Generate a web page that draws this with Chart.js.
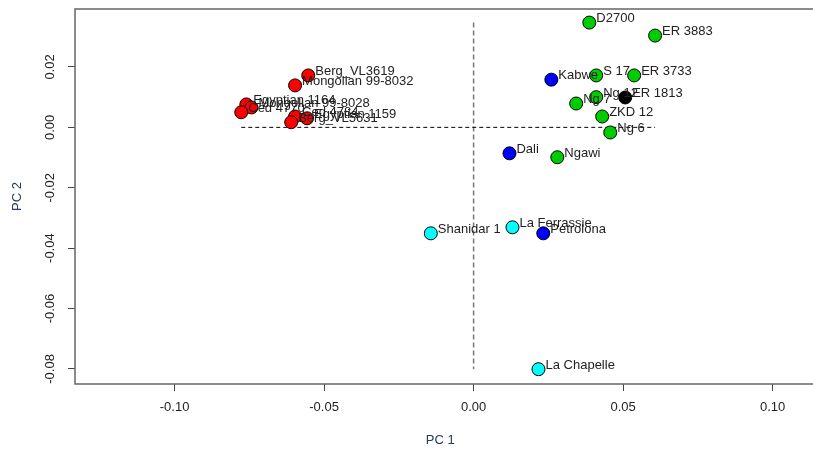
<!DOCTYPE html>
<html>
<head>
<meta charset="utf-8">
<script src="https://cdn.jsdelivr.net/npm/chart.js@4.4.1/dist/chart.umd.min.js"></script>
<style>
  body { margin: 0; background: #fff; overflow: hidden; }
  #wrap { width: 813px; height: 449px; }
</style>
</head>
<body>
<div id="wrap"><canvas id="pca" width="813" height="449"></canvas></div>
<script>
const specimens = [
    'Berg_VL3619', 'Mongolian 99-8032', 'Egyptian 1164', 'Mongolian 99-8028', 'Ced 4770',
    'Ced 4784', 'Egyptian 1159', 'Berg_VL5631',
    'D2700', 'ER 3883', 'S 17', 'ER 3733', 'Ng 12', 'Ng 7', 'ZKD 12', 'Ng 6', 'Ngawi',
    'ER 1813',
    'Kabwe', 'Dali', 'Petrolona',
    'Shanidar 1', 'La Ferrassie', 'La Chapelle'
];
const pc1 = [
    -0.0553, -0.0597, -0.0760, -0.0743, -0.0777,
    -0.0597, -0.0557, -0.0610,
    0.0387, 0.0607, 0.0410, 0.0537, 0.0410, 0.0343, 0.0430, 0.0457, 0.0280,
    0.0507,
    0.0260, 0.0120, 0.0233,
    -0.0143, 0.0130, 0.0217
];
const pc2 = [
    0.0172, 0.0139, 0.0076, 0.0066, 0.0050,
    0.0036, 0.0030, 0.0017,
    0.0347, 0.0304, 0.0172, 0.0172, 0.0100, 0.0079, 0.0036, -0.0017, -0.0099,
    0.0099,
    0.0158, -0.0086, -0.0351,
    -0.0351, -0.0331, -0.0801
];
const groups = [
    'modern', 'modern', 'modern', 'modern', 'modern',
    'modern', 'modern', 'modern',
    'erectus', 'erectus', 'erectus', 'erectus', 'erectus', 'erectus', 'erectus', 'erectus', 'erectus',
    'habilis',
    'archaic', 'archaic', 'archaic',
    'neanderthal', 'neanderthal', 'neanderthal'
];
const groupOrder = ['modern', 'erectus', 'habilis', 'archaic', 'neanderthal'];
const groupColors = {
    modern: '#ff0000',
    erectus: '#00cd00',
    habilis: '#000000',
    archaic: '#0000ff',
    neanderthal: '#00ffff'
};

const xTicks = [-0.10, -0.05, 0.00, 0.05, 0.10];
const yTicks = [-0.08, -0.06, -0.04, -0.02, 0.00, 0.02];

const labelFont = '13px "Liberation Sans", Arial, sans-serif';

// one scatter dataset per group
const pointSets = groupOrder.map(g => {
    const pts = [];
    specimens.forEach((name, i) => {
        if (groups[i] === g) pts.push({ x: pc1[i], y: pc2[i], name: name });
    });
    return {
        type: 'scatter',
        label: g,
        data: pts,
        backgroundColor: groupColors[g],
        borderColor: '#000',
        borderWidth: 1,
        pointRadius: 6.5,
        pointHoverRadius: 6.5,
        order: 1
    };
});

// dashed reference lines through zero, spanning the data range
const xMin = Math.min(...pc1), xMax = Math.max(...pc1);
const yMin = Math.min(...pc2), yMax = Math.max(...pc2);

const refLines = [
    {
        type: 'line',
        data: [{ x: xMin, y: 0 }, { x: xMax, y: 0 }],
        borderColor: '#000',
        borderWidth: 1,
        borderDash: [4, 3],
        pointRadius: 0,
        order: 2
    },
    {
        type: 'line',
        data: [{ x: 0, y: yMax }, { x: 0, y: yMin }],
        borderColor: '#777',
        borderWidth: 1.5,
        borderDash: [5, 3],
        pointRadius: 0,
        order: 2
    }
];

const boxAndLabels = {
    id: 'boxAndLabels',
    afterDatasetsDraw(chart) {
        const ctx = chart.ctx;
        const a = chart.chartArea;
        ctx.save();
        // box: right side falls outside the picture
        ctx.strokeStyle = '#666';
        ctx.lineWidth = 1.5;
        ctx.beginPath();
        ctx.moveTo(chart.width + 5, a.top);
        ctx.lineTo(a.left, a.top);
        ctx.lineTo(a.left, a.bottom);
        ctx.lineTo(chart.width + 5, a.bottom);
        ctx.stroke();

        // specimen labels
        ctx.font = labelFont;
        ctx.fillStyle = '#222';
        ctx.textAlign = 'left';
        ctx.textBaseline = 'middle';
        chart.data.datasets.forEach((ds, di) => {
            if (ds.type !== 'scatter') return;
            const meta = chart.getDatasetMeta(di);
            meta.data.forEach((el, i) => {
                ctx.fillText(ds.data[i].name, el.x + 7, el.y - 4);
            });
        });

        // y tick labels, rotated like R
        const ys = chart.scales.y;
        yTicks.forEach(v => {
            const py = ys.getPixelForValue(v);
            ctx.save();
            ctx.translate(50, py);
            ctx.rotate(-Math.PI / 2);
            ctx.textAlign = 'center';
            ctx.fillText(v.toFixed(2), 0, 0);
            ctx.restore();
        });
        ctx.restore();
    }
};

new Chart(document.getElementById('pca'), {
    data: { datasets: [...refLines, ...pointSets] },
    options: {
        responsive: false,
        animation: false,
        layout: { padding: { top: 9, right: 0, left: 0, bottom: 0 } },
        plugins: {
            legend: { display: false },
            tooltip: { enabled: false }
        },
        scales: {
            x: {
                type: 'linear',
                position: 'bottom',
                min: -0.1333,
                max: 0.111,
                afterFit: s => { s.height = 65; s.paddingLeft = 0; s.paddingRight = 0; },
                afterBuildTicks: s => { s.ticks = xTicks.map(v => ({ value: v })); },
                border: { display: false },
                grid: { drawOnChartArea: false, tickLength: 7, color: '#444' },
                ticks: {
                    autoSkip: false,
                    maxRotation: 0,
                    padding: 9,
                    color: '#222',
                    font: { family: '"Liberation Sans", Arial, sans-serif', size: 13 },
                    callback: v => Number(v).toFixed(2)
                },
                title: {
                    display: true,
                    text: 'PC 1',
                    color: '#263a5a',
                    padding: { top: 0, bottom: 1 },
                    font: { family: '"Liberation Sans", Arial, sans-serif', size: 13 }
                }
            },
            y: {
                type: 'linear',
                min: -0.085,
                max: 0.0392,
                afterFit: s => { s.width = 75; s.paddingTop = 0; s.paddingBottom = 0; },
                afterBuildTicks: s => { s.ticks = yTicks.map(v => ({ value: v })); },
                border: { display: false },
                grid: { drawOnChartArea: false, tickLength: 7, color: '#444' },
                ticks: { color: 'rgba(0,0,0,0)', font: { size: 13 } },
                title: {
                    display: true,
                    text: 'PC 2',
                    color: '#263a5a',
                    padding: { top: 10, bottom: 0 },
                    font: { family: '"Liberation Sans", Arial, sans-serif', size: 13 }
                }
            }
        }
    },
    plugins: [boxAndLabels]
});
</script>
</body>
</html>
